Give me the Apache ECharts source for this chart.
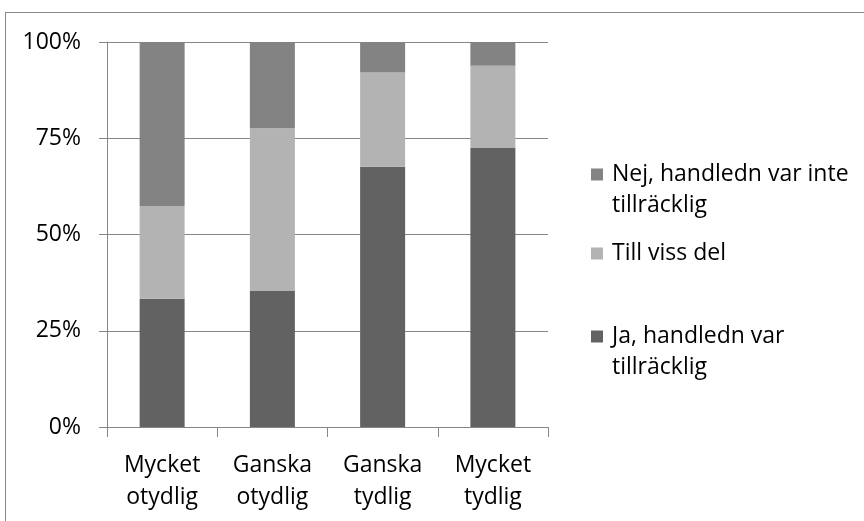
<!DOCTYPE html>
<html>
<head>
<meta charset="utf-8">
<script src="https://cdn.jsdelivr.net/npm/echarts@6/dist/echarts.min.js"></script>
<style>
  html, body { margin: 0; padding: 0; background: #fff; }
  #frame { position: absolute; left: 5px; top: 12px; width: 900px; height: 600px; border: 1px solid #888; }
  #chart { position: absolute; left: 0; top: 0; width: 864px; height: 521px; }
</style>
</head>
<body>
<div id="frame"></div>
<div id="chart"></div>
<script>
const categories = ["Mycket\notydlig", "Ganska\notydlig", "Ganska\ntydlig", "Mycket\ntydlig"];
const yTicks = [0, 25, 50, 75, 100];
const jaValues = [33.3, 35.3, 67.6, 72.5];
const tillVissValues = [24.1, 42.3, 24.5, 21.3];
const nejValues = [42.6, 22.4, 7.9, 6.2];

const nameJa = "Ja, handledn var tillräcklig";
const nameTill = "Till viss del";
const nameNej = "Nej, handledn var inte tillräcklig";

const font = "Open Sans";
const fontSize = 23;
const lh = 31;
const axisGray = "#868686";

const chart = echarts.init(document.getElementById("chart"), null, { renderer: "canvas" });

// rich text so the top padding pushes the 2nd line down and the marker stays by the 1st line
const richLine = { t: { fontFamily: font, fontSize: fontSize, color: "#000", lineHeight: lh } };

const legendBase = {
  orient: "vertical",
  left: 591,
  padding: 0,
  itemWidth: 12,
  itemHeight: 12,
  selectedMode: false,
  icon: "rect",
};

const option = {
  animation: false,
  backgroundColor: "transparent",
  textStyle: { fontFamily: font },
  grid: { left: 107, right: 316, top: 42, bottom: 94 },
  legend: [
    Object.assign({}, legendBase, {
      top: 128,
      data: [nameNej],
      formatter: () => "{t|Nej, handledn var inte}\n{t|tillräcklig}",
      textStyle: { fontFamily: font, fontSize: fontSize, color: "#000", lineHeight: lh, padding: [lh, 0, 0, 4], rich: richLine },
    }),
    Object.assign({}, legendBase, {
      top: 238,
      data: [nameTill],
      textStyle: { fontFamily: font, fontSize: fontSize, color: "#000", lineHeight: lh, padding: [0, 0, 0, 4] },
    }),
    Object.assign({}, legendBase, {
      top: 290,
      data: [nameJa],
      formatter: () => "{t|Ja, handledn var}\n{t|tillräcklig}",
      textStyle: { fontFamily: font, fontSize: fontSize, color: "#000", lineHeight: lh, padding: [lh, 0, 0, 4], rich: richLine },
    }),
  ],
  xAxis: {
    type: "category",
    data: categories,
    boundaryGap: true,
    axisLine: { show: true, lineStyle: { color: axisGray, width: 1 } },
    axisTick: { show: true, length: 10, interval: 0, lineStyle: { color: axisGray } },
    axisLabel: {
      interval: 0,
      margin: 22,
      color: "#000",
      fontFamily: font,
      fontSize: fontSize,
      lineHeight: 32,
    },
  },
  yAxis: {
    type: "value",
    min: yTicks[0],
    max: yTicks[yTicks.length - 1],
    interval: 25,
    axisLine: { show: true, lineStyle: { color: axisGray, width: 1 } },
    axisTick: { show: true, length: 8, lineStyle: { color: axisGray } },
    splitLine: { show: true, lineStyle: { color: axisGray, width: 1 } },
    axisLabel: {
      margin: 26,
      color: "#000",
      fontFamily: font,
      fontSize: fontSize,
      formatter: "{value}%",
    },
  },
  series: [
    { name: nameJa, type: "bar", stack: "total", data: jaValues, barWidth: 45, itemStyle: { color: "#626262" } },
    { name: nameTill, type: "bar", stack: "total", data: tillVissValues, barWidth: 45, itemStyle: { color: "#b3b3b3" } },
    { name: nameNej, type: "bar", stack: "total", data: nejValues, barWidth: 45, itemStyle: { color: "#838383" } },
  ],
};

chart.setOption(option);
</script>
</body>
</html>
